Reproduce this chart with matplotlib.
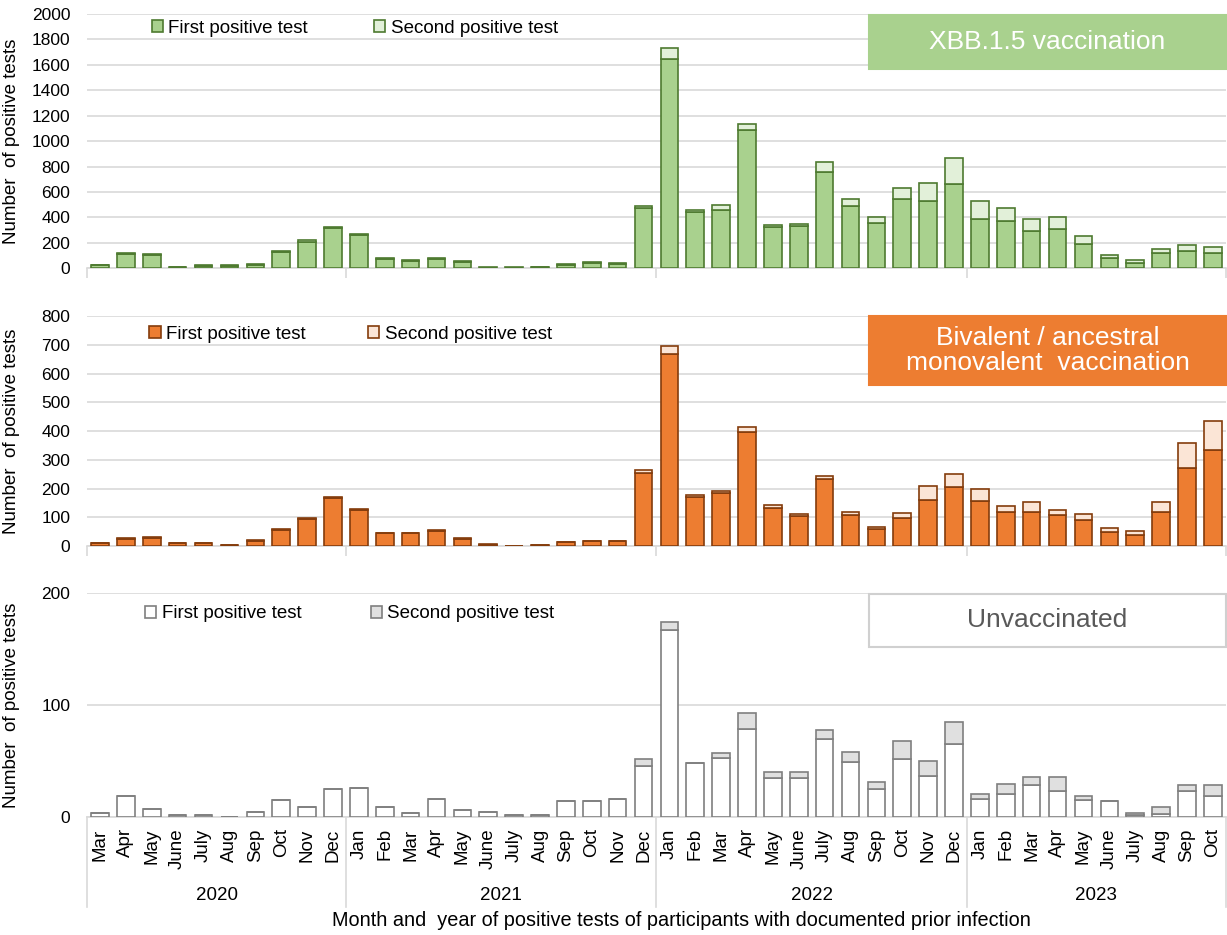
import matplotlib
matplotlib.use("Agg")
import matplotlib.pyplot as plt
from matplotlib.patches import Rectangle
import numpy as np

plt.rcParams['font.family'] = ['Liberation Sans', 'DejaVu Sans']

months = (["Mar", "Apr", "May", "June", "July", "Aug", "Sep", "Oct", "Nov", "Dec"] +
          ["Jan", "Feb", "Mar", "Apr", "May", "June", "July", "Aug", "Sep", "Oct", "Nov", "Dec"] * 2 +
          ["Jan", "Feb", "Mar", "Apr", "May", "June", "July", "Aug", "Sep", "Oct"])
years = ["2020", "2021", "2022", "2023"]
year_counts = [10, 12, 12, 10]

# XBB.1.5 vaccination
xbb_first = [25, 115, 108, 11, 22, 22, 30, 128, 210, 318,
             260, 76, 56, 72, 52, 6, 6, 11, 28, 42, 37, 472,
             1645, 440, 462, 1090, 328, 330, 760, 488, 356, 544, 533, 665,
             385, 372, 293, 311, 193, 79, 42, 121, 140, 121]
xbb_second = [3, 6, 5, 2, 4, 4, 4, 9, 9, 7,
              9, 8, 7, 7, 6, 2, 2, 2, 4, 5, 5, 16,
              86, 16, 34, 45, 15, 18, 74, 58, 45, 84, 140, 206,
              145, 100, 92, 90, 63, 27, 21, 32, 45, 45]

# Bivalent / ancestral monovalent
biv_first = [9, 26, 28, 9, 9, 2, 19, 56, 93, 167,
             127, 44, 44, 54, 25, 5, 0, 2, 13, 16, 16, 255,
             667, 169, 185, 395, 134, 104, 232, 107, 58, 97, 161, 206,
             155, 118, 118, 107, 90, 48, 37, 117, 270, 333]
biv_second = [1, 2, 2, 1, 1, 0, 2, 2, 3, 3,
              2, 1, 1, 2, 2, 1, 0, 0, 1, 1, 1, 9,
              29, 8, 7, 20, 9, 8, 12, 12, 9, 19, 49, 45,
              43, 23, 34, 18, 22, 16, 15, 35, 89, 103]

# Unvaccinated
unv_first = [4, 19, 7, 2, 2, 0, 5, 15, 9, 25,
             26, 9, 4, 16, 6, 5, 2, 2, 14, 14, 16, 46,
             167, 48, 53, 79, 35, 35, 70, 49, 25, 52, 37, 65,
             16, 21, 29, 23, 15, 14, 2, 3, 23, 19]
unv_second = [0, 0, 0, 0, 0, 0, 0, 0, 0, 0,
              0, 0, 0, 0, 0, 0, 0, 0, 0, 0, 0, 6,
              7, 0, 4, 14, 5, 5, 8, 9, 6, 16, 13, 20,
              5, 9, 7, 13, 4, 0, 2, 6, 6, 10]

panels = [
    dict(first=xbb_first, second=xbb_second, ymax=2000, step=200,
         fc1="#A9D18E", fc2="#E2F0D9", ec="#4E7A30",
         label="XBB.1.5 vaccination", boxfc="#A9D18E", boxec="#A9D18E", tc="white",
         box=(0.687, 0.783, 0.313, 0.213), leg=(0.05, 0.945), cs=3.5),
    dict(first=biv_first, second=biv_second, ymax=800, step=100,
         fc1="#ED7D31", fc2="#FBE5D6", ec="#843C0C",
         label="Bivalent / ancestral\nmonovalent  vaccination", boxfc="#ED7D31", boxec="#ED7D31", tc="white",
         box=(0.687, 0.70, 0.313, 0.30), leg=(0.048, 0.92), cs=3.3),
    dict(first=unv_first, second=unv_second, ymax=200, step=100,
         fc1="white", fc2="#E0E0E0", ec="#7F7F7F",
         label="Unvaccinated", boxfc="white", boxec="#D0D0D0", tc="#595959",
         box=(0.687, 0.759, 0.313, 0.237), leg=(0.044, 0.906), cs=3.7),
]

fig = plt.figure(figsize=(12.27, 9.35), dpi=100)
rects = [(0.071, 0.713, 0.928, 0.272),
         (0.071, 0.416, 0.928, 0.246),
         (0.071, 0.126, 0.928, 0.240)]

x = np.arange(len(months))
bounds = np.cumsum([0] + year_counts) - 0.5

for i, (p, r) in enumerate(zip(panels, rects)):
    ax = fig.add_axes(r)
    ax.bar(x, p["first"], width=0.68, color=p["fc1"], edgecolor=p["ec"], linewidth=1.2,
           label="First positive test", zorder=3)
    ax.bar(x, p["second"], width=0.68, bottom=p["first"], color=p["fc2"], edgecolor=p["ec"],
           linewidth=1.2, label="Second positive test", zorder=3)
    ax.set_xlim(-0.5, len(months) - 0.5)
    ax.set_ylim(0, p["ymax"])
    ax.set_yticks(np.arange(0, p["ymax"] + 1, p["step"]))
    ax.grid(axis="y", color="#D9D9D9", linewidth=1.2, zorder=0)
    for s in ["top", "right", "left"]:
        ax.spines[s].set_visible(False)
    ax.spines["bottom"].set_color("#D9D9D9")
    ax.spines["bottom"].set_linewidth(1.2)
    ax.tick_params(axis="y", length=0, labelsize=12.5, pad=12, colors="black")
    ax.set_ylabel("Number  of positive tests", fontsize=13.5)
    ax.yaxis.set_label_coords(-0.059, 0.5)
    ax.legend(loc="center left", bbox_to_anchor=p["leg"], ncol=2, frameon=False,
              fontsize=13.5, handlelength=0.6, handleheight=0.6, handletextpad=0.3,
              columnspacing=p["cs"], borderaxespad=0)
    bx, by, bw, bh = p["box"]
    ax.add_patch(Rectangle((bx, by), bw, bh, transform=ax.transAxes, facecolor=p["boxfc"],
                           edgecolor=p["boxec"], linewidth=1.5, zorder=5, clip_on=False))
    ax.text(bx + bw / 2, by + bh / 2, p["label"], transform=ax.transAxes, ha="center", va="center",
            color=p["tc"], fontsize=19, zorder=6, linespacing=1.1)
    if i < 2:
        ax.set_xticks(bounds)
        ax.set_xticklabels([])
        ax.tick_params(axis="x", length=7, color="#D9D9D9", width=1.2)
    else:
        ax.set_xticks(x)
        ax.set_xticklabels(months, rotation=90, fontsize=13.5)
        ax.tick_params(axis="x", length=0, pad=8)
        trans = ax.get_xaxis_transform()
        for bnd in bounds:
            ax.plot([bnd, bnd], [0, -0.40], transform=trans, color="#D9D9D9", linewidth=1.2,
                    clip_on=False)
        for k, yr in enumerate(years):
            ax.text((bounds[k] + bounds[k + 1]) / 2, -0.35, yr, transform=trans, ha="center",
                    va="center", fontsize=13.5)

fig.text(0.555, 0.016,
         "Month and  year of positive tests of participants with documented prior infection",
         ha="center", va="center", fontsize=14.3)

fig.savefig("out.png", dpi=100)
